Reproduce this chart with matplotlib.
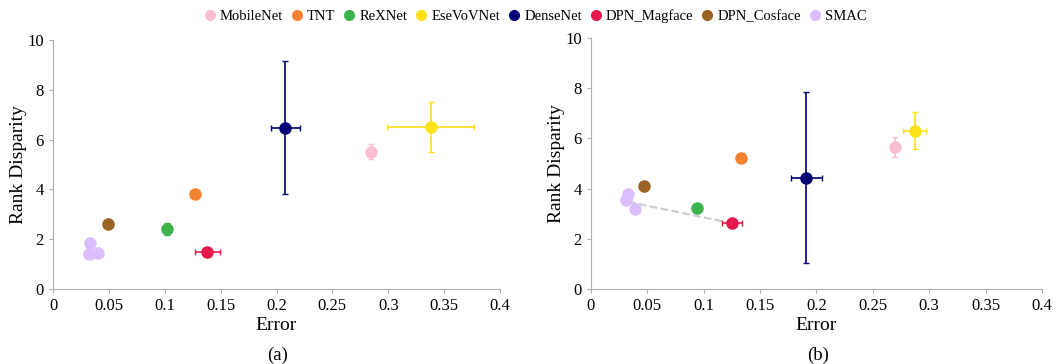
import matplotlib
matplotlib.use("Agg")
import matplotlib.pyplot as plt
from matplotlib.lines import Line2D

plt.rcParams['font.family'] = ['Liberation Serif', 'DejaVu Serif']

models = ['MobileNet', 'TNT', 'ReXNet', 'EseVoVNet', 'DenseNet',
          'DPN_Magface', 'DPN_Cosface', 'SMAC']
colors = ['#fabed4', '#f58231', '#3cb44b', '#ffe119', '#000075',
          '#e6194b', '#9a6324', '#dcbeff']

# (a) error, rank disparity and their spreads
err_a = [0.285, 0.127, 0.102, 0.338, 0.208, 0.138, 0.049]
rd_a = [5.52, 3.82, 2.40, 6.52, 6.48, 1.48, 2.63]
xerr_a = [0.002, 0.003, 0.0, 0.039, 0.013, 0.011, 0.0]
yerr_a = [0.30, 0.05, 0.25, 1.00, 2.68, 0.0, 0.0]
smac_err_a = [0.033, 0.032, 0.040]
smac_rd_a = [1.85, 1.40, 1.45]

# (b)
err_b = [0.270, 0.133, 0.094, 0.287, 0.191, 0.125, 0.047]
rd_b = [5.67, 5.20, 3.22, 6.30, 4.43, 2.62, 4.10]
xerr_b = [0.003, 0.0, 0.0, 0.010, 0.014, 0.009, 0.0]
yerr_b = [0.40, 0.0, 0.0, 0.73, 3.40, 0.0, 0.0]
smac_err_b = [0.033, 0.031, 0.039]
smac_rd_b = [3.80, 3.53, 3.17]
link_err_b = [0.033, 0.125]
link_rd_b = [3.47, 2.62]

fig = plt.figure(figsize=(10.6, 3.64), dpi=100)
ax1 = fig.add_axes([0.050, 0.206, 0.4217, 0.684])
ax2 = fig.add_axes([0.5575, 0.206, 0.4255, 0.690])


def draw(ax, err, rd, xerr, yerr, s_err, s_rd):
    for i in range(len(err)):
        ax.errorbar(err[i], rd[i], xerr=xerr[i] or None, yerr=yerr[i] or None,
                    fmt='o', color=colors[i], ms=8, elinewidth=1.2,
                    capsize=2, capthick=1, zorder=3)
    ax.plot(s_err, s_rd, 'o', color=colors[7], ms=8, zorder=3)
    ax.set_xlim(0, 0.4)
    ax.set_ylim(0, 10)
    ax.set_xticks([0, 0.05, 0.1, 0.15, 0.2, 0.25, 0.3, 0.35, 0.4])
    ax.set_xticklabels(['0', '0.05', '0.1', '0.15', '0.2', '0.25', '0.3', '0.35', '0.4'])
    ax.set_yticks([0, 2, 4, 6, 8, 10])
    for s in ['top', 'right']:
        ax.spines[s].set_visible(False)
    for s in ['left', 'bottom']:
        ax.spines[s].set_color('#b0b0b0')
    ax.tick_params(colors='#b0b0b0', labelcolor='black', labelsize=12, length=3)
    ax.set_xlabel('Error', fontsize=14, labelpad=2)
    ax.set_ylabel('Rank Disparity', fontsize=14, labelpad=0)


draw(ax1, err_a, rd_a, xerr_a, yerr_a, smac_err_a, smac_rd_a)
draw(ax2, err_b, rd_b, xerr_b, yerr_b, smac_err_b, smac_rd_b)
ax2.plot(link_err_b, link_rd_b, '--', color='#cccccc', lw=1.5, zorder=2)

fig.text(0.262, 0.012, '(a)', ha='center', fontsize=13.5)
fig.text(0.772, 0.012, '(b)', ha='center', fontsize=13.5)

handles = [Line2D([], [], marker='o', ls='', color=c, ms=7) for c in colors]
fig.legend(handles, models, loc='upper center', bbox_to_anchor=(0.505, 1.01),
           ncol=8, frameon=False, fontsize=10.5, handlelength=0.8,
           handletextpad=0.3, columnspacing=0.55)

fig.savefig('out.png', dpi=100)
